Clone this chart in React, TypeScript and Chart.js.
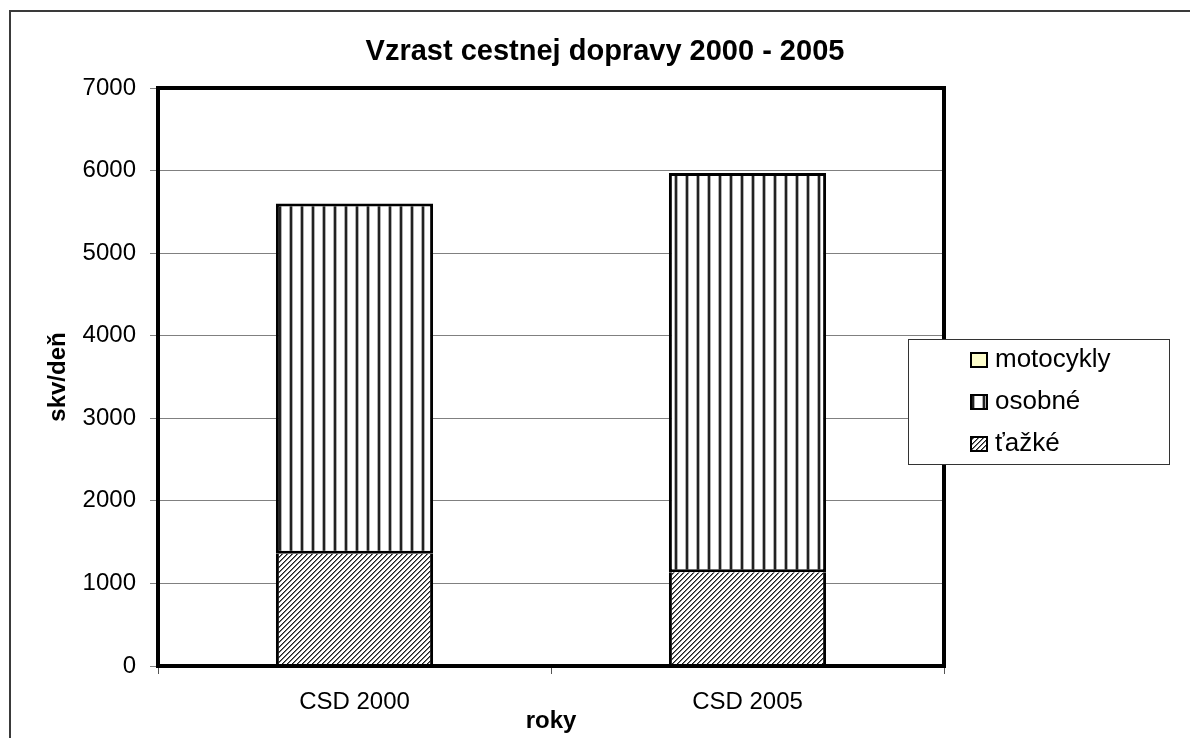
import React, { useEffect, useRef } from 'react';
import { Chart, registerables } from 'chart.js';

Chart.register(...registerables);

const categories = ['CSD 2000', 'CSD 2005'];
const tazke = [1360, 1135];
const osobne = [4240, 4835];
const motocykly = [0, 0];
const seriesLabels = ['ťažké', 'osobné', 'motocykly'];
const yTickValues = [0, 1000, 2000, 3000, 4000, 5000, 6000, 7000];
const chartTitle = 'Vzrast cestnej dopravy 2000 - 2005';
const xTitle = 'roky';
const yTitle = 'skv/deň';

const FONT = '"Liberation Sans", Arial, Helvetica, sans-serif';

function makeStripePattern(ctx: CanvasRenderingContext2D) {
  const c = document.createElement('canvas');
  c.width = 11;
  c.height = 4;
  const g = c.getContext('2d')!;
  g.fillStyle = '#ffffff';
  g.fillRect(0, 0, 11, 4);
  g.fillStyle = '#b0b0b0';
  g.fillRect(3, 0, 1, 4);
  g.fillRect(6, 0, 1, 4);
  g.fillStyle = '#222222';
  g.fillRect(4, 0, 2, 4);
  return ctx.createPattern(c, 'repeat')!;
}

function makeHatchPattern(ctx: CanvasRenderingContext2D) {
  const n = 5;
  const c = document.createElement('canvas');
  c.width = n;
  c.height = n;
  const g = c.getContext('2d')!;
  const img = g.createImageData(n, n);
  for (let y = 0; y < n; y++) {
    for (let x = 0; x < n; x++) {
      const k = (x + y) % n;
      const v = k === 0 ? 30 : k === 1 ? 120 : 255;
      const i = (y * n + x) * 4;
      img.data[i] = v;
      img.data[i + 1] = v;
      img.data[i + 2] = v;
      img.data[i + 3] = 255;
    }
  }
  g.putImageData(img, 0, 0);
  return ctx.createPattern(c, 'repeat')!;
}

const framePlugin = {
  id: 'frame',
  beforeDraw(chart: any) {
    const { ctx, width, height } = chart;
    ctx.save();
    ctx.fillStyle = '#ffffff';
    ctx.fillRect(0, 0, width, height);
    ctx.strokeStyle = '#3a3a3a';
    ctx.lineWidth = 2;
    ctx.strokeRect(10, 11, width + 20, height + 20);
    ctx.restore();
  },
  afterDatasetsDraw(chart: any) {
    const { ctx, chartArea } = chart;
    ctx.save();
    ctx.strokeStyle = '#000000';
    ctx.lineWidth = 4;
    ctx.strokeRect(chartArea.left, chartArea.top, chartArea.right - chartArea.left, chartArea.bottom - chartArea.top);
    ctx.restore();
  },
  afterDraw(chart: any) {
    const { ctx } = chart;
    const bx = 908, by = 339, bw = 262, bh = 126;
    ctx.save();
    ctx.fillStyle = '#ffffff';
    ctx.fillRect(bx, by, bw, bh);
    ctx.strokeStyle = '#333333';
    ctx.lineWidth = 1;
    ctx.strokeRect(bx + 0.5, by + 0.5, bw - 1, bh - 1);
    const ds = chart.data.datasets.slice().reverse();
    ds.forEach((d: any, i: number) => {
      const base = 367 + i * 42;
      ctx.fillStyle = d.backgroundColor;
      ctx.fillRect(971, base - 14, 16, 14);
      ctx.strokeStyle = '#000000';
      ctx.lineWidth = 2;
      ctx.strokeRect(971, base - 14, 16, 14);
      ctx.fillStyle = '#000000';
      ctx.font = `26px ${FONT}`;
      ctx.textBaseline = 'alphabetic';
      ctx.textAlign = 'left';
      ctx.fillText(d.label, 995, base);
    });
    ctx.restore();
  },
};

export default function App() {
  const ref = useRef<HTMLCanvasElement>(null);

  useEffect(() => {
    const canvas = ref.current!;
    const ctx = canvas.getContext('2d')!;
    const stripe = makeStripePattern(ctx);
    const hatch = makeHatchPattern(ctx);

    const chart = new Chart(canvas, {
      type: 'bar',
      data: {
        labels: categories,
        datasets: [
          {
            label: seriesLabels[0],
            data: tazke,
            backgroundColor: hatch as any,
            borderColor: '#000000',
            borderWidth: { top: 0, left: 3, right: 3, bottom: 0 } as any,
            borderSkipped: false,
          },
          {
            label: seriesLabels[1],
            data: osobne,
            backgroundColor: stripe as any,
            borderColor: '#000000',
            borderWidth: 3,
            borderSkipped: false,
          },
          {
            label: seriesLabels[2],
            data: motocykly,
            backgroundColor: '#FFFFCC',
            borderColor: '#000000',
            borderWidth: 0,
            borderSkipped: false,
          },
        ],
      },
      options: {
        responsive: false,
        animation: false,
        devicePixelRatio: 1,
        layout: { padding: { left: 20, right: 0, top: 0, bottom: 0 } },
        datasets: {
          bar: { barPercentage: 0.4, categoryPercentage: 1.0 },
        },
        plugins: {
          legend: { display: false },
          tooltip: { enabled: false },
          title: {
            display: true,
            text: chartTitle,
            color: '#000000',
            font: { family: FONT, size: 29, weight: 'bold' },
            padding: { top: 34.6, bottom: 18.6 },
          },
        },
        scales: {
          x: {
            stacked: true,
            border: { display: false },
            grid: {
              offset: true,
              drawOnChartArea: false,
              drawTicks: true,
              tickLength: 8,
              color: '#555555',
            },
            ticks: {
              color: '#000000',
              font: { family: FONT, size: 24 },
              padding: 14,
            },
            title: {
              display: true,
              text: xTitle,
              color: '#000000',
              font: { family: FONT, size: 24, weight: 'bold' },
              padding: { top: 0, bottom: 2 },
            },
            afterFit: (s: any) => {
              s.height = 72;
            },
          },
          y: {
            stacked: true,
            min: 0,
            max: 7000,
            border: { display: false },
            grid: {
              color: '#808080',
              lineWidth: 1,
              drawTicks: true,
              tickLength: 8,
            },
            ticks: {
              color: '#000000',
              font: { family: FONT, size: 24 },
              padding: 14,
              stepSize: 1000,
              callback: (v: any) => String(v),
            },
            afterBuildTicks: (s: any) => {
              s.ticks = yTickValues.map((v) => ({ value: v }));
            },
            title: {
              display: true,
              text: yTitle,
              color: '#000000',
              font: { family: FONT, size: 24, weight: 'bold' },
              padding: { top: 23.6, bottom: 0 },
            },
            afterFit: (s: any) => {
              s.width = 138;
            },
          },
          spacer: {
            type: 'linear',
            position: 'right',
            display: true,
            ticks: { display: false },
            grid: { display: false },
            border: { display: false },
            title: { display: false },
            afterFit: (s: any) => {
              s.width = 246;
            },
          },
        },
      },
      plugins: [framePlugin],
    });

    return () => chart.destroy();
  }, []);

  return (
    <div style={{ position: 'fixed', left: 0, top: 0, width: 1190, height: 738, background: '#fff' }}>
      <canvas ref={ref} width={1190} height={738} style={{ display: 'block', width: 1190, height: 738 }} />
    </div>
  );
}
